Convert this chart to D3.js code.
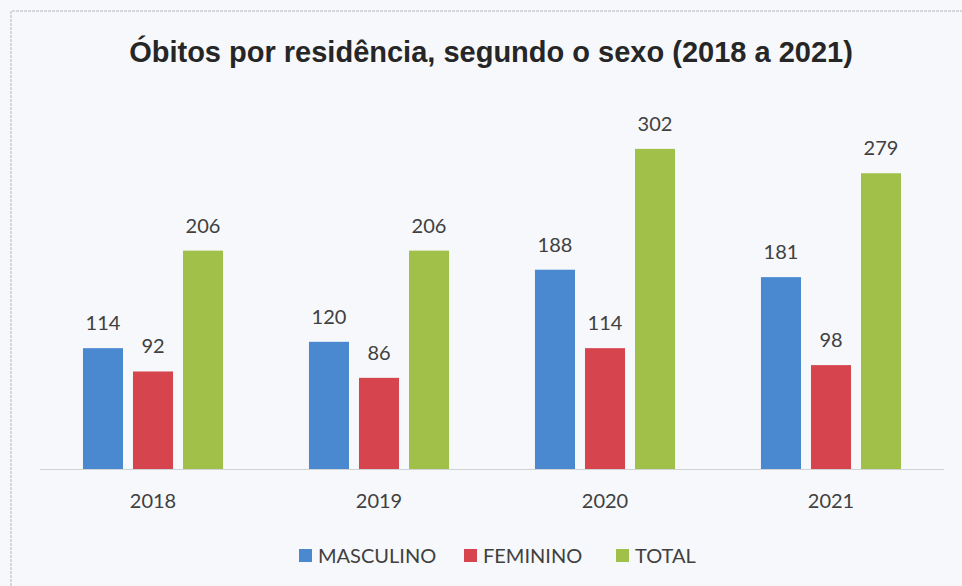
<!DOCTYPE html>
<meta charset="utf-8">
<style>
html, body { margin: 0; padding: 0; background: #f6f8fb; }
svg { display: block; }
</style>
<body>
<script src="https://d3js.org/d3.v7.min.js"></script>
<script>

var width = 962,
    height = 586;

// data
var years = ["2018", "2019", "2020", "2021"];
var series = ["MASCULINO", "FEMININO", "TOTAL"];
var masculino = [114, 120, 188, 181];
var feminino = [92, 86, 114, 98];
var total = [206, 206, 302, 279];

var colors = ["#4a89cf", "#d6444e", "#a1c04a"];
var title = "Óbitos por residência, segundo o sexo (2018 a 2021)";

var plot = {left: 40, right: 944, base: 469};

var rows = years.map(function(y, i){
  return {year: y, values: [masculino[i], feminino[i], total[i]]};
});

var svg = d3.select("body").append("svg")
  .attr("width", width)
  .attr("height", height);

// scanned sheet border
svg.append("path")
  .attr("d", "M11,586 V11 H962")
  .attr("fill", "none")
  .attr("stroke", "#c9ccd2")
  .attr("stroke-width", 1.5)
  .attr("stroke-dasharray", "3,1");

svg.append("text")
  .attr("x", 491)
  .attr("y", 62)
  .attr("text-anchor", "middle")
  .attr("font-family", "Liberation Sans, Arial, sans-serif")
  .attr("font-weight", "bold")
  .attr("font-size", 29)
  .attr("fill", "#262626")
  .text(title);

var x0 = d3.scaleBand()
  .domain(years)
  .range([plot.left, plot.right])
  .paddingInner(0.336)
  .paddingOuter(0.168);

var x1 = d3.scaleBand()
  .domain(series)
  .range([0, x0.bandwidth()])
  .paddingInner(0.2)
  .paddingOuter(0.1);

var y = d3.scaleLinear()
  .domain([0, 340])
  .range([plot.base, plot.base - 340 * 1.06]);

var groups = svg.append("g").selectAll("g")
  .data(rows)
  .enter().append("g")
  .attr("transform", function(d){ return "translate(" + x0(d.year) + ",0)"; });

groups.selectAll("rect")
  .data(function(d){ return d.values.map(function(v, k){ return {s: series[k], v: v, k: k}; }); })
  .enter().append("rect")
  .attr("x", function(d){ return x1(d.s); })
  .attr("y", function(d){ return y(d.v); })
  .attr("width", x1.bandwidth())
  .attr("height", function(d){ return y(0) - y(d.v); })
  .attr("fill", function(d){ return colors[d.k]; });

groups.selectAll("text")
  .data(function(d){ return d.values.map(function(v, k){ return {s: series[k], v: v}; }); })
  .enter().append("text")
  .attr("x", function(d){ return x1(d.s) + x1.bandwidth() / 2; })
  .attr("y", function(d){ return y(d.v) - 18; })
  .attr("text-anchor", "middle")
  .attr("font-family", "Lato, Open Sans, sans-serif")
  .attr("font-size", 20)
  .attr("fill", "#404040")
  .text(function(d){ return d.v; });

// baseline
svg.append("line")
  .attr("x1", plot.left).attr("x2", plot.right)
  .attr("y1", y(0) + 0.5).attr("y2", y(0) + 0.5)
  .attr("stroke", "#cfd3d8")
  .attr("stroke-width", 1);

var xAxis = svg.append("g")
  .attr("transform", "translate(0," + y(0) + ")")
  .call(d3.axisBottom(x0).tickSize(0).tickPadding(25));
xAxis.select(".domain").remove();
xAxis.selectAll("text")
  .attr("font-family", "Lato, Open Sans, sans-serif")
  .attr("font-size", 20)
  .attr("fill", "#404040");

// legend
var legendX = [299, 464, 616];
var legend = svg.append("g").selectAll("g")
  .data(series)
  .enter().append("g")
  .attr("transform", function(d, i){ return "translate(" + legendX[i] + ",549)"; });

legend.append("rect")
  .attr("width", 13).attr("height", 13)
  .attr("fill", function(d, i){ return colors[i]; });

legend.append("text")
  .attr("x", 19)
  .attr("y", 13.5)
  .attr("font-family", "Lato, Open Sans, sans-serif")
  .attr("font-size", 20)
  .attr("fill", "#404040")
  .text(function(d){ return d; });

</script>
</body>
